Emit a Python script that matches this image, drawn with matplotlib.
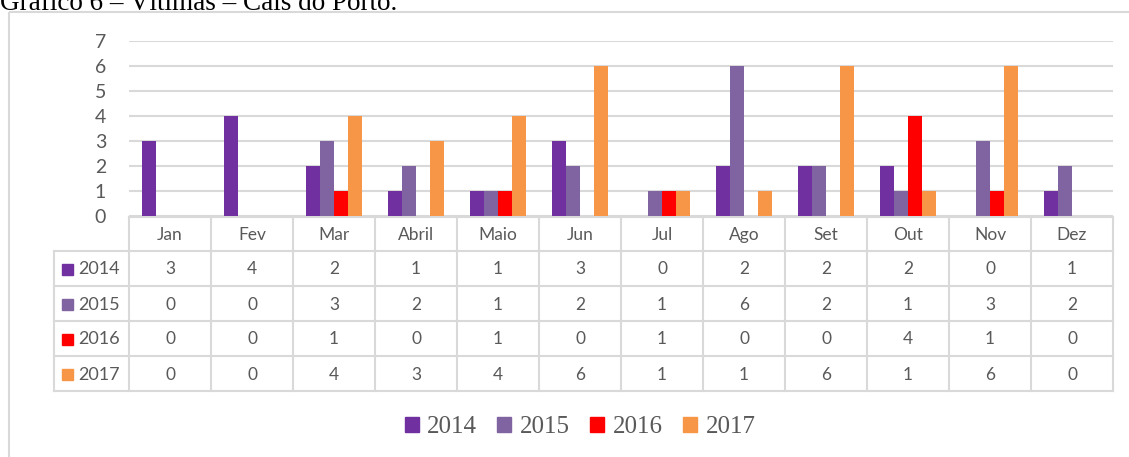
import numpy as np
import matplotlib.pyplot as plt
from matplotlib.patches import Rectangle

# data
months = ['Jan', 'Fev', 'Mar', 'Abril', 'Maio', 'Jun', 'Jul', 'Ago', 'Set', 'Out', 'Nov', 'Dez']
years = ['2014', '2015', '2016', '2017']
v2014 = [3, 4, 2, 1, 1, 3, 0, 2, 2, 2, 0, 1]
v2015 = [0, 0, 3, 2, 1, 2, 1, 6, 2, 1, 3, 2]
v2016 = [0, 0, 1, 0, 1, 0, 1, 0, 0, 4, 1, 0]
v2017 = [0, 0, 4, 3, 4, 6, 1, 1, 6, 1, 6, 0]
series = [v2014, v2015, v2016, v2017]
colors = ['#7030A0', '#8064A2', '#FF0000', '#F79646']

W, H = 1129, 457
grid_c = '#D9D9D9'
txt_c = '#595959'
sans = ['Lato', 'DejaVu Sans']
serif = ['Liberation Serif', 'DejaVu Serif']

fig = plt.figure(figsize=(W / 100, H / 100), dpi=100)

# overlay in pixel coordinates for frame, table, caption
ov = fig.add_axes([0, 0, 1, 1])
ov.set_xlim(0, W)
ov.set_ylim(H, 0)
ov.axis('off')

# caption (cut by the top edge as in the scanned page)
ov.text(0, 10.5, 'Gráfico 6 – Vítimas – Cais do Porto.', family=serif, fontsize=19.5,
        color='black', va='baseline', ha='left', clip_on=False)

# chart frame
ov.add_patch(Rectangle((9, 12), W + 20, H + 20, fill=False, edgecolor=grid_c, lw=1.5))

# bar area
x0, x1 = 129, 1113
y_top, y_zero = 40.5, 216
ax = fig.add_axes([x0 / W, (H - y_zero) / H, (x1 - x0) / W, (y_zero - y_top) / H])
ax.set_xlim(0, len(months))
ax.set_ylim(0, 7)
bw = 0.17
x = np.arange(len(months)) + 0.5
for i, (vals, c) in enumerate(zip(series, colors)):
    ax.bar(x + (i - 1.5) * bw, vals, width=bw, color=c, zorder=3)
ax.set_yticks(range(8))
ax.grid(axis='y', color=grid_c, lw=1.5, zorder=0)
ax.set_xticks([])
for s in ax.spines.values():
    s.set_visible(False)
ax.tick_params(axis='y', length=0, pad=16.5, labelsize=14, labelcolor=txt_c)
for lab in ax.get_yticklabels():
    lab.set_family(sans)
ax.patch.set_alpha(0)

# data table
col_w = (x1 - x0) / len(months)
rows = [217, 251, 286, 321, 356, 391]
lab_x0 = 54
tl = dict(color=grid_c, lw=1.5)
# horizontal lines
ov.plot([x0, x1], [rows[0], rows[0]], **tl)
for r in rows[1:]:
    ov.plot([lab_x0, x1], [r, r], **tl)
# vertical lines
ov.plot([lab_x0, lab_x0], [rows[1], rows[-1]], **tl)
for j in range(len(months) + 1):
    xx = x0 + j * col_w
    ov.plot([xx, xx], [rows[0], rows[-1]], **tl)

for j, m in enumerate(months):
    ov.text(x0 + (j + 0.5) * col_w, (rows[0] + rows[1]) / 2 + 1, m, family=sans,
            fontsize=12.5, color=txt_c, ha='center', va='center')
for i, (yr, vals, c) in enumerate(zip(years, series, colors)):
    yc = (rows[i + 1] + rows[i + 2]) / 2 + 1
    ov.add_patch(Rectangle((62, yc - 6), 11, 11, color=c))
    ov.text(78, yc, yr, family=sans, fontsize=13, color=txt_c, ha='left', va='center')
    for j, v in enumerate(vals):
        ov.text(x0 + (j + 0.5) * col_w, yc, str(v), family=sans, fontsize=12.5,
                color=txt_c, ha='center', va='center')

# legend
leg = fig.legend([Rectangle((0, 0), 1, 1, color=c) for c in colors], years,
                 loc='center', bbox_to_anchor=(580 / W, (H - 427) / H), ncol=4,
                 frameon=False, prop={'family': serif, 'size': 18},
                 handlelength=0.56, handleheight=0.56, handletextpad=0.35,
                 columnspacing=0.8)
for t in leg.get_texts():
    t.set_color(txt_c)

fig.savefig('out.png', dpi=100)
